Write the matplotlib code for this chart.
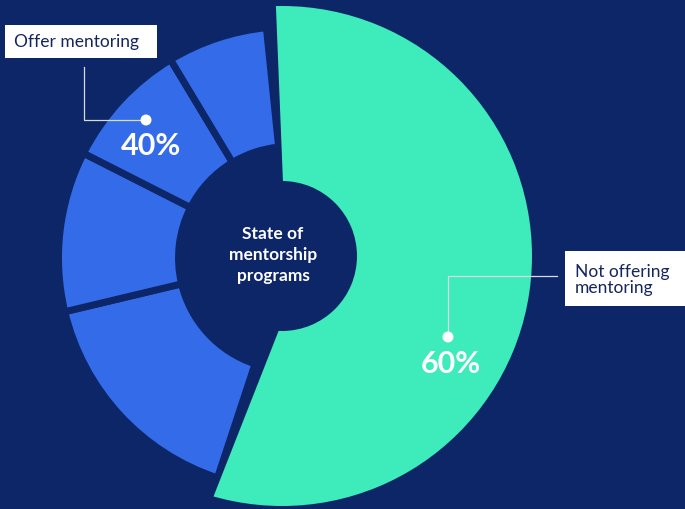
import matplotlib
matplotlib.use("Agg")
import matplotlib.pyplot as plt
import matplotlib.patches as patches
import numpy as np

# shares of the ring, clockwise from the top (percent of the full circle)
slice_names = ["Not offering", "Offer 4", "Offer 3", "Offer 2", "Offer 1"]
slice_shares = [56.6, 16.2, 11.2, 8.9, 7.0]
slice_groups = ["not", "offer", "offer", "offer", "offer"]

group_labels = ["Offer mentoring", "Not offering\nmentoring"]
group_pcts = ["40%", "60%"]
center_title = "State of\nmentorship\nprograms"

BG = "#0d2667"
BLUE = "#336be9"
GREEN = "#3eebbb"
NAVY_TXT = "#15255e"
FONT = ["Lato", "DejaVu Sans"]


def main():
    fig = plt.figure(figsize=(6.85, 5.1), dpi=100, facecolor=BG)
    ax = fig.add_axes([0, 0, 1, 1])
    ax.set_facecolor(BG)
    ax.set_xlim(0, 685)
    ax.set_ylim(0, 510)
    ax.set_axis_off()

    start = 92.3
    bounds = start - np.concatenate([[0], np.cumsum(slice_shares)]) * 3.6

    # blue ring (offer mentoring), separated by background-coloured strokes
    blue_shift = 3.2
    for i, grp in enumerate(slice_groups):
        if grp != "offer":
            continue
        t1 = bounds[i + 1] + blue_shift
        t2 = bounds[i] + blue_shift
        w = patches.Wedge((290, 251), 231.5, t1, t2, width=120,
                          fc=BLUE, ec=BG, lw=5.0, joinstyle="miter", zorder=2)
        ax.add_patch(w)

    # green ring (not offering), bigger and clipped by its own wedge
    g = slice_groups.index("not")
    ring = patches.Wedge((282, 253), 250, 0, 360, width=175, fc=GREEN, ec="none", zorder=3)
    ax.add_patch(ring)
    clip = patches.Wedge((288, 202), 400, bounds[g + 1], bounds[g], transform=ax.transData)
    ring.set_clip_path(clip)

    # centre title
    ax.text(273, 255, center_title, ha="center", va="center", color="white",
            fontsize=12.5, fontweight="bold", family=FONT, linespacing=1.4, zorder=5)

    # 40% callout
    line_c = "#d6dbe8"
    ax.plot([84, 84, 146], [442, 389, 389], color=line_c, lw=0.9, zorder=4)
    ax.add_patch(patches.Circle((146, 389), 5.5, fc="white", ec="none", zorder=5))
    ax.text(151, 364, group_pcts[0], ha="center", va="center", color="white",
            fontsize=22, fontweight="bold", family=FONT, zorder=5)
    ax.add_patch(patches.Rectangle((5, 451), 152, 33, fc="white", ec="none", zorder=5))
    ax.text(14, 467.5, group_labels[0], ha="left", va="center", color=NAVY_TXT,
            fontsize=12.5, family=FONT, zorder=6)

    # 60% callout
    ax.plot([448, 448, 557], [172, 233, 233], color=line_c, lw=0.9, zorder=4)
    ax.add_patch(patches.Circle((448, 172), 5.5, fc="white", ec="none", zorder=5))
    ax.text(451, 146, group_pcts[1], ha="center", va="center", color="white",
            fontsize=22, fontweight="bold", family=FONT, zorder=5)
    ax.add_patch(patches.Rectangle((565, 203), 125, 55, fc="white", ec="none", zorder=5))
    ax.text(575, 230, group_labels[1], ha="left", va="center", color=NAVY_TXT,
            fontsize=12.5, family=FONT, linespacing=0.95, zorder=6)

    fig.savefig("out.png", dpi=100, facecolor=BG)


if __name__ == "__main__":
    main()
